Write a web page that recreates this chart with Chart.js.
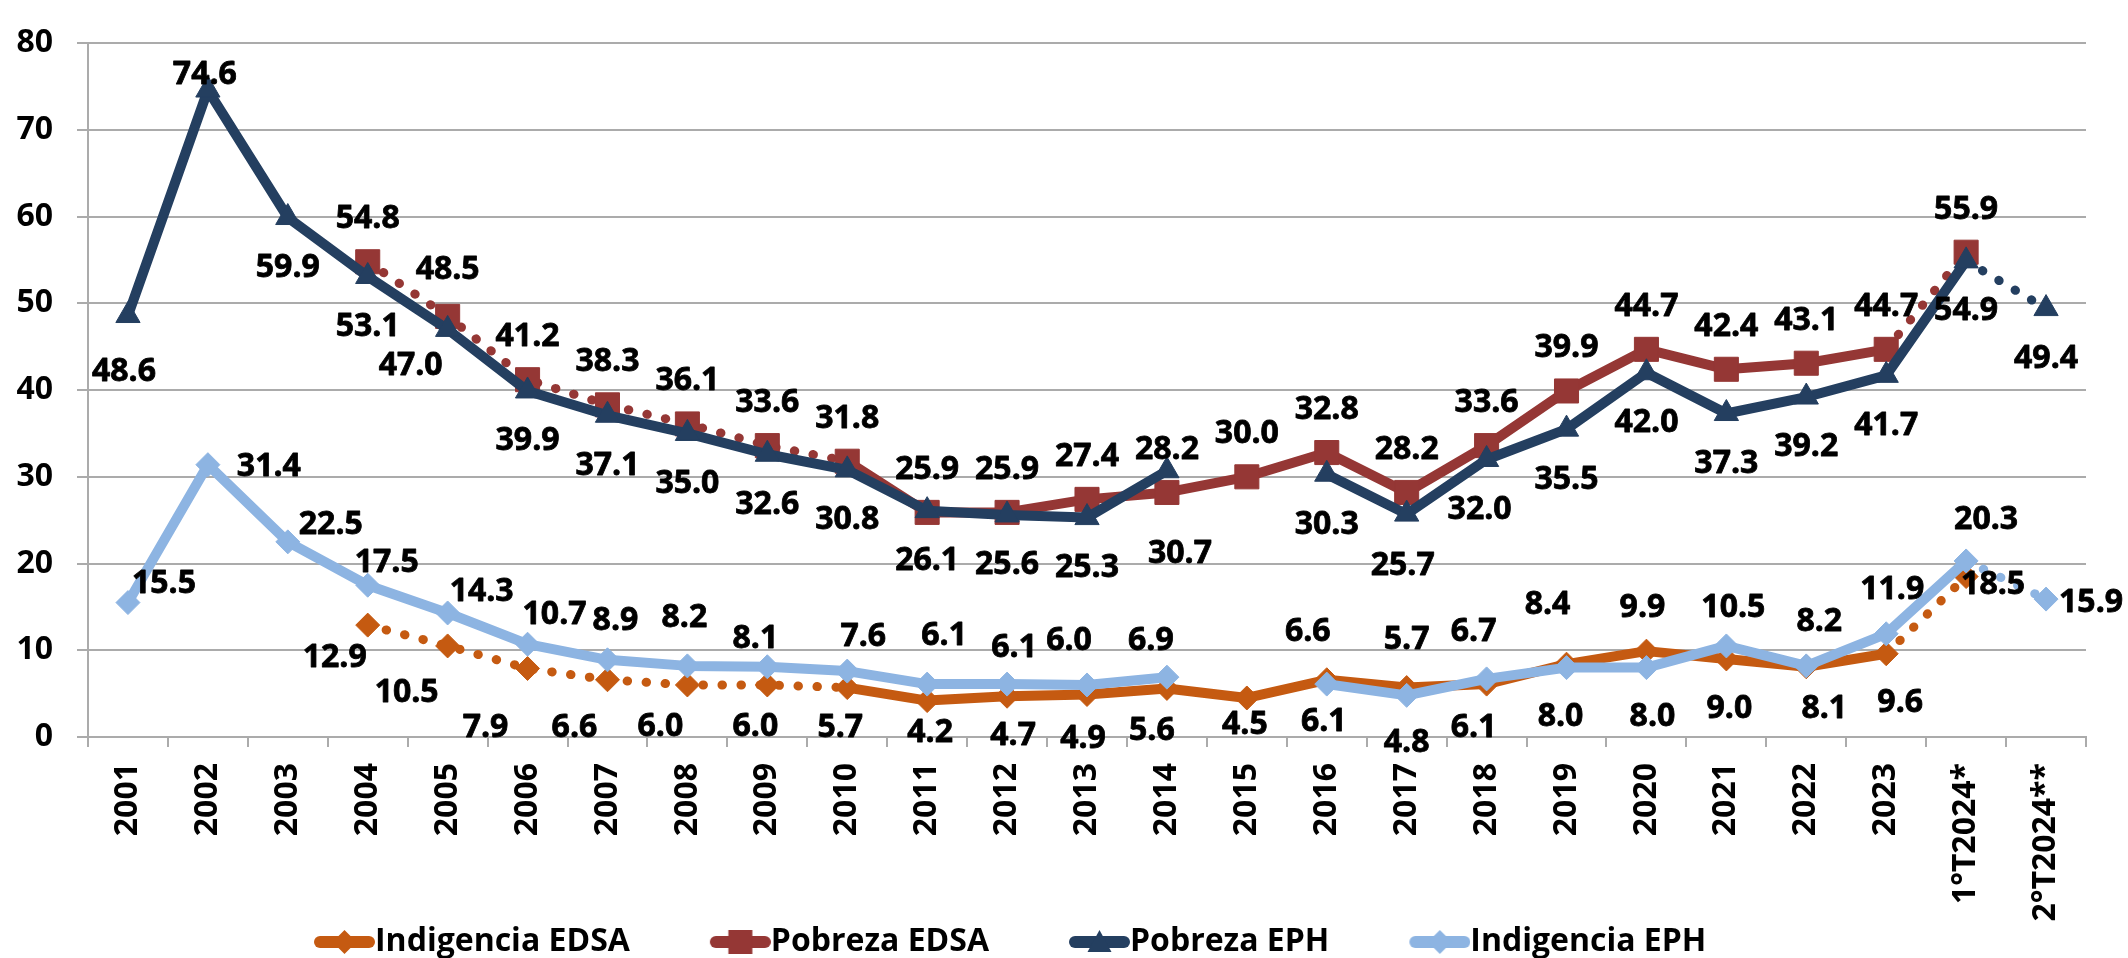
<!DOCTYPE html>
<html lang="es">
<head>
<meta charset="utf-8">
<title>Pobreza e indigencia: EDSA vs EPH</title>
<script src="https://cdn.jsdelivr.net/npm/chart.js@4.4.1/dist/chart.umd.min.js"></script>
<style>
    html, body { margin: 0; padding: 0; background: #ffffff; }
    #chart-wrap { width: 2128px; height: 958px; }
</style>
</head>
<body>
<div id="chart-wrap"><canvas id="povertyChart" width="2128" height="958"></canvas></div>
<script>
// Categories (x axis)
const categories = ['2001', '2002', '2003', '2004', '2005', '2006', '2007', '2008', '2009', '2010',
    '2011', '2012', '2013', '2014', '2015', '2016', '2017', '2018', '2019', '2020', '2021', '2022',
    '2023', '1°T2024*', '2°T2024**'];

// Series values (% of people), null = no data
const indigenciaEDSA = [null, null, null, 12.9, 10.5, 7.9, 6.6, 6.0, 6.0, 5.7, 4.2, 4.7, 4.9, 5.6,
    4.5, 6.6, 5.7, 6.1, 8.4, 9.9, 9.0, 8.1, 9.6, 18.5, null];
const pobrezaEDSA = [null, null, null, 54.8, 48.5, 41.2, 38.3, 36.1, 33.6, 31.8, 25.9, 25.9, 27.4, 28.2,
    30.0, 32.8, 28.2, 33.6, 39.9, 44.7, 42.4, 43.1, 44.7, 55.9, null];
const pobrezaEPH = [48.6, 74.6, 59.9, 53.1, 47.0, 39.9, 37.1, 35.0, 32.6, 30.8, 26.1, 25.6, 25.3, 30.7,
    null, 30.3, 25.7, 32.0, 35.5, 42.0, 37.3, 39.2, 41.7, 54.9, 49.4];
const indigenciaEPH = [15.5, 31.4, 22.5, 17.5, 14.3, 10.7, 8.9, 8.2, 8.1, 7.6, 6.1, 6.1, 6.0, 6.9,
    null, 6.1, 4.8, 6.7, 8.0, 8.0, 10.5, 8.2, 11.9, 20.3, 15.9];

// Y axis range
const yMin = 0;
const yMax = 80;
const yStep = 10;

// Segments drawn dotted (index of the segment's first point)
const dottedEDSA = [3, 4, 5, 6, 7, 8, 22];
const dottedEPH = [23];

// Colors
const COLORS = {
    indigenciaEDSA: '#C55A11',
    pobrezaEDSA: '#953735',
    pobrezaEPH: '#243F60',
    indigenciaEPH: '#8DB4E2',
    grid: '#ABABAB'
};

const FONT = "'Open Sans', sans-serif";
const LABEL_SIZE = 32;

// Data label placement: [dx, dy] from the point to the label center
function buildOffsets(base, exceptions) {
    return categories.map((_, i) => exceptions[i] || base);
}

const offIndigenciaEDSA = buildOffsets([0, 45], {
    3: [-33, 30], 4: [-41, 45], 5: [-42, 57], 6: [-33, 46], 7: [-27, 40], 8: [-12, 40], 9: [-7, 38],
    10: [3, 30], 11: [6, 37], 12: [-4, 42], 13: [-15, 40], 14: [-2, 25], 15: [-19, -50], 16: [0, -50],
    17: [-13, 41], 18: [-19, -62], 19: [-4, -46], 20: [3, 48], 21: [18, 40], 22: [14, 47], 23: [27, 6]
});
const offPobrezaEDSA = buildOffsets([0, -45], { 4: [0, -49] });
const offPobrezaEPH = buildOffsets([0, 48], {
    0: [-4, 54], 1: [-3, -17], 4: [-37, 34], 13: [13, 81], 16: [-4, 49], 17: [-7, 48]
});
const offIndigenciaEPH = buildOffsets([0, -45], {
    0: [36, -21], 1: [61, 0], 2: [43, -19], 3: [19, -25], 4: [34, -23], 5: [27, -32], 6: [8, -41],
    7: [-3, -50], 8: [-12, -30], 9: [16, -37], 10: [17, -51], 11: [7, -39], 12: [-18, -46], 13: [-16, -39],
    15: [-3, 35], 16: [0, 45], 17: [-13, -49], 18: [-6, 47], 19: [6, 47], 20: [7, -40], 21: [13, -46],
    22: [6, -46], 23: [20, -43], 24: [45, 1]
});

// Marker shapes (shared by the legend icons)
function drawMarker(g, shape, x, y, color) {
    g.fillStyle = color;
    g.beginPath();
    if (shape === 'diamond') {
        g.moveTo(x, y - 12); g.lineTo(x + 12, y); g.lineTo(x, y + 12); g.lineTo(x - 12, y);
    } else if (shape === 'square') {
        g.rect(x - 12, y - 12, 24, 24);
    } else {
        g.moveTo(x, y - 12); g.lineTo(x + 12, y + 10); g.lineTo(x - 12, y + 10);
    }
    g.closePath();
    g.fill();
}

// Legend icon: short thick line with the marker in the middle, right aligned in the box
const LEGEND_BOX = 115;
const LEGEND_FONT = 32;
function makeLegendIcon(color, shape) {
    const c = document.createElement('canvas');
    c.width = LEGEND_BOX + LEGEND_FONT;
    c.height = 32;
    const g = c.getContext('2d');
    const x2 = c.width;
    const x1 = x2 - 61;
    g.strokeStyle = color;
    g.lineWidth = 12;
    g.lineCap = 'round';
    g.beginPath();
    g.moveTo(x1 + 6, 16);
    g.lineTo(x2 - 6, 16);
    g.stroke();
    drawMarker(g, shape, (x1 + x2) / 2, 16, color);
    return c;
}

// Dotted segment styling
function dottedSegments(starts) {
    const isDotted = c => starts.includes(c.p0DataIndex);
    return {
        borderDash: c => isDotted(c) ? [0.5, 18.5] : undefined,
        borderWidth: c => isDotted(c) ? 9 : undefined,
        borderCapStyle: c => isDotted(c) ? 'round' : undefined
    };
}

function makeDataset(label, data, color, pointStyle, radius, order, dotted, offsets, shape) {
    return {
        label: label,
        data: data,
        borderColor: color,
        backgroundColor: color,
        borderWidth: 10,
        borderJoinStyle: 'round',
        pointStyle: pointStyle,
        pointRadius: radius,
        pointHoverRadius: radius,
        pointBackgroundColor: color,
        pointBorderColor: color,
        pointBorderWidth: 1,
        tension: 0,
        spanGaps: false,
        order: order,
        segment: dottedSegments(dotted),
        labelOffsets: offsets,
        legendIcon: makeLegendIcon(color, shape)
    };
}

// Value labels drawn above everything
const pointLabels = {
    id: 'pointLabels',
    afterDatasetsDraw(chart) {
        const ctx = chart.ctx;
        ctx.save();
        ctx.font = `bold ${LABEL_SIZE}px ${FONT}`;
        ctx.fillStyle = '#000000';
        ctx.strokeStyle = '#000000';
        ctx.lineWidth = 0.8;
        ctx.lineJoin = 'round';
        ctx.textAlign = 'center';
        ctx.textBaseline = 'alphabetic';
        const capHalf = LABEL_SIZE * 0.357;
        chart.data.datasets.forEach((ds, di) => {
            const meta = chart.getDatasetMeta(di);
            ds.data.forEach((v, i) => {
                if (v === null) return;
                const pt = meta.data[i];
                const [dx, dy] = ds.labelOffsets[i];
                const text = v.toFixed(1);
                ctx.fillText(text, pt.x + dx, pt.y + dy + capHalf);
                ctx.strokeText(text, pt.x + dx, pt.y + dy + capHalf);
            });
        });
        ctx.restore();
    }
};

// Move the legend row to where it sits in the original
const legendNudge = {
    id: 'legendNudge',
    afterLayout(chart) {
        const lg = chart.legend;
        if (!lg) return;
        lg.left = 234;
        lg.top = 942 - 10 - LEGEND_FONT / 2;
        lg.bottom = lg.top + 50;
    }
};

document.addEventListener('DOMContentLoaded', () => {
    Chart.defaults.font.family = FONT;
    Chart.defaults.font.weight = 'bold';
    Chart.defaults.color = '#000000';

    const datasets = [
        makeDataset('Indigencia EDSA', indigenciaEDSA, COLORS.indigenciaEDSA, 'rectRot', 12, 4, dottedEDSA, offIndigenciaEDSA, 'diamond'),
        makeDataset('Pobreza EDSA', pobrezaEDSA, COLORS.pobrezaEDSA, 'rect', 17, 3, dottedEDSA, offPobrezaEDSA, 'square'),
        makeDataset('Pobreza EPH', pobrezaEPH, COLORS.pobrezaEPH, 'triangle', 14, 2, dottedEPH, offPobrezaEPH, 'triangle'),
        makeDataset('Indigencia EPH', indigenciaEPH, COLORS.indigenciaEPH, 'rectRot', 12, 1, dottedEPH, offIndigenciaEPH, 'diamond')
    ];

    new Chart(document.getElementById('povertyChart'), {
        type: 'line',
        data: { labels: categories, datasets: datasets },
        options: {
            responsive: false,
            devicePixelRatio: 1,
            animation: false,
            layout: { padding: { top: 25, right: 42, bottom: 0, left: 0 } },
            scales: {
                x: {
                    type: 'category',
                    offset: true,
                    grid: {
                        offset: true,
                        drawOnChartArea: false,
                        drawTicks: true,
                        tickLength: 10,
                        color: COLORS.grid,
                        lineWidth: 2
                    },
                    border: { color: COLORS.grid, width: 2 },
                    ticks: {
                        autoSkip: false,
                        maxRotation: 90,
                        minRotation: 90,
                        padding: 16,
                        color: '#000000',
                        font: { size: 32, weight: 'bold' }
                    },
                    afterFit: scale => { scale.height = 201; }
                },
                y: {
                    min: yMin,
                    max: yMax,
                    grid: { color: COLORS.grid, lineWidth: 2, tickLength: 11 },
                    border: { color: COLORS.grid, width: 2 },
                    ticks: {
                        stepSize: yStep,
                        padding: 24,
                        color: '#000000',
                        font: { size: 32, weight: 'bold' }
                    },
                    afterFit: scale => { scale.width = 88; }
                }
            },
            plugins: {
                tooltip: { enabled: false },
                legend: {
                    position: 'bottom',
                    align: 'start',
                    maxHeight: 20,
                    labels: {
                        usePointStyle: true,
                        pointStyleWidth: LEGEND_BOX,
                        padding: 10,
                        color: '#000000',
                        font: { size: LEGEND_FONT, weight: 'bold' },
                        generateLabels: chart => chart.data.datasets.map((ds, i) => ({
                            text: ds.label,
                            pointStyle: ds.legendIcon,
                            fillStyle: ds.borderColor,
                            strokeStyle: ds.borderColor,
                            lineWidth: 0,
                            hidden: false,
                            datasetIndex: i,
                            fontColor: '#000000'
                        }))
                    }
                }
            }
        },
        plugins: [pointLabels, legendNudge]
    });
});
</script>
</body>
</html>
